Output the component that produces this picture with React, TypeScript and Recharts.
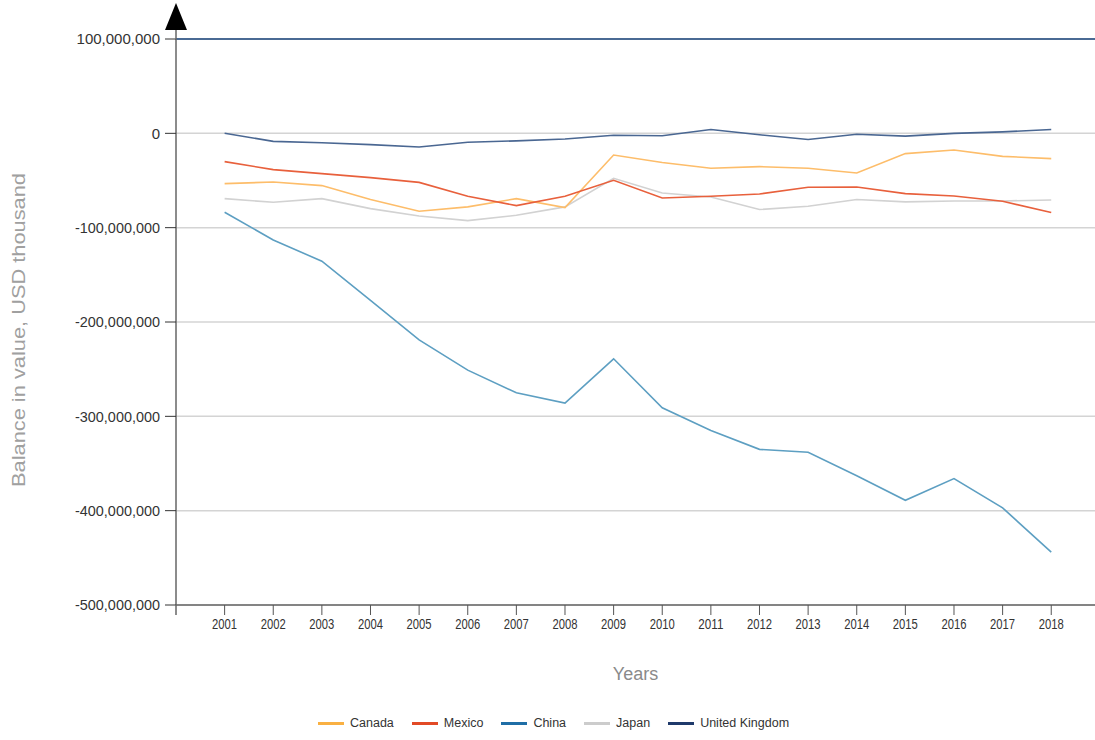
import { LineChart, Line, XAxis, YAxis, CartesianGrid, ReferenceLine, ReferenceDot, Legend } from 'recharts';

const years = [2001, 2002, 2003, 2004, 2005, 2006, 2007, 2008, 2009, 2010, 2011, 2012, 2013, 2014, 2015, 2016, 2017, 2018];

const canada = [-53300000, -51600000, -55400000, -70200000, -82600000, -78000000, -69200000, -78700000, -23000000, -31000000, -37000000, -35300000, -37000000, -42000000, -21500000, -17700000, -24400000, -26800000];
const mexico = [-30000000, -38500000, -42700000, -47000000, -52000000, -66700000, -76600000, -66700000, -49800000, -68500000, -66700000, -64300000, -57200000, -56900000, -63900000, -66400000, -72000000, -84000000];
const china = [-83700000, -113000000, -135600000, -177000000, -219000000, -251000000, -275000000, -286000000, -239000000, -291000000, -315000000, -335000000, -338000000, -363000000, -389000000, -366000000, -397000000, -444000000];
const japan = [-69200000, -73100000, -69200000, -79800000, -87600000, -92500000, -86900000, -78000000, -47700000, -63200000, -67500000, -80800000, -77300000, -70200000, -72700000, -71700000, -71700000, -70600000];
const uk = [0, -8500000, -10000000, -12000000, -14500000, -9500000, -8000000, -6000000, -2000000, -2500000, 4000000, -1500000, -6500000, -1000000, -3000000, 0, 1500000, 4000000];

const yTicks = [100000000, 0, -100000000, -200000000, -300000000, -400000000, -500000000];

// legend order, line colour, legend swatch colour
const series = [
  { key: 'canada', name: 'Canada', line: '#fdbd6a', swatch: '#f9b042' },
  { key: 'mexico', name: 'Mexico', line: '#e8603c', swatch: '#e24a26' },
  { key: 'china', name: 'China', line: '#5d9fc2', swatch: '#1f6ea6' },
  { key: 'japan', name: 'Japan', line: '#d2d2d2', swatch: '#cccccc' },
  { key: 'uk', name: 'United Kingdom', line: '#4a6792', swatch: '#1f3a6b' },
];

const data = years.map((year, i) => ({
  year,
  canada: canada[i],
  mexico: mexico[i],
  china: china[i],
  japan: japan[i],
  uk: uk[i],
}));

const FONT = '"Liberation Sans", Arial, sans-serif';

const YTick = ({ x, y, payload }: any) => (
  <text x={x} y={y} dy="0.35em" textAnchor="end" fontSize={15} fontFamily={FONT} fill="#333"
    textLength={payload.value < 0 ? 85 : undefined} lengthAdjust="spacingAndGlyphs">
    {Number(payload.value).toLocaleString('en-US')}
  </text>
);

const XTick = ({ x, y, payload }: any) => (
  <text x={x} y={y} dy="0.75em" textAnchor="middle" fontSize={14} fontFamily={FONT} fill="#333"
    textLength={25} lengthAdjust="spacingAndGlyphs">
    {payload.value}
  </text>
);

const YLabel = ({ viewBox }: any) => {
  const cx = viewBox.x + 18;
  const cy = viewBox.y + viewBox.height / 2 + 8;
  return (
    <text x={cx} y={cy} transform={`rotate(-90 ${cx} ${cy})`} textAnchor="middle" dy="0.35em"
      fontSize={19} fontFamily={FONT} fill="#a0a0a0" textLength={314} lengthAdjust="spacingAndGlyphs">
      Balance in value, USD thousand
    </text>
  );
};

const XLabel = ({ viewBox }: any) => (
  <text x={viewBox.x + viewBox.width / 2} y={viewBox.y + 69} textAnchor="middle" dy="0.35em"
    fontSize={18} fontFamily={FONT} fill="#8a8a8a">
    Years
  </text>
);

const AxisArrow = ({ cx, cy }: any) => (
  <g>
    <line x1={cx} y1={cy - 10} x2={cx} y2={cy} stroke="#666" strokeWidth={1.5} />
    <path d={`M ${cx} ${cy - 36} L ${cx + 11} ${cy - 9} L ${cx - 11} ${cy - 9} Z`} fill="#000" />
  </g>
);

const AxisTail = ({ cx, cy }: any) => (
  <line x1={cx} y1={cy} x2={cx} y2={cy + 10} stroke="#666" strokeWidth={1.5} />
);

const LegendContent = () => (
  <div style={{ height: 34, display: 'flex', alignItems: 'center', paddingLeft: 318, fontFamily: FONT, fontSize: 12.5, color: '#333' }}>
    {series.map((s) => (
      <div key={s.key} style={{ display: 'flex', alignItems: 'center', marginRight: 18 }}>
        <span style={{ display: 'inline-block', width: 26, height: 3, background: s.swatch, marginRight: 6 }} />
        <span>{s.name}</span>
      </div>
    ))}
  </div>
);

export default function App() {
  return (
    <div style={{ position: 'absolute', left: 0, top: 0, width: 1095, height: 740, background: '#fff' }}>
      <LineChart width={1095} height={740} data={data} margin={{ top: 39, right: 0, left: 0, bottom: 0 }}>
        <CartesianGrid vertical={false} stroke="#d4d4d4" strokeWidth={1.5} />
        <XAxis
          dataKey="year"
          type="number"
          domain={[2000, 2018.9]}
          ticks={years}
          height={101}
          tickSize={10}
          tickMargin={3}
          tick={<XTick />}
          axisLine={{ stroke: '#666', strokeWidth: 1.5 }}
          tickLine={{ stroke: '#555' }}
          label={<XLabel />}
        />
        <YAxis
          type="number"
          domain={[-500000000, 100000000]}
          ticks={yTicks}
          width={176}
          tickSize={11}
          tickMargin={5}
          tick={<YTick />}
          axisLine={{ stroke: '#666', strokeWidth: 1.5 }}
          tickLine={{ stroke: '#333' }}
          label={<YLabel />}
        />
        <ReferenceLine y={100000000} stroke="#4a6a94" strokeWidth={2} />
        <ReferenceDot x={2000} y={100000000} ifOverflow="visible" shape={<AxisArrow />} />
        <ReferenceDot x={2000} y={-500000000} ifOverflow="visible" shape={<AxisTail />} />
        {['japan', 'canada', 'mexico', 'china', 'uk'].map((k) => {
          const s = series.find((x) => x.key === k)!;
          return (
            <Line key={k} type="linear" dataKey={k} name={s.name} stroke={s.line} strokeWidth={1.6}
              dot={false} activeDot={false} isAnimationActive={false} />
          );
        })}
        <Legend verticalAlign="bottom" content={<LegendContent />} wrapperStyle={{ left: 0, width: 1095 }} />
      </LineChart>
    </div>
  );
}
